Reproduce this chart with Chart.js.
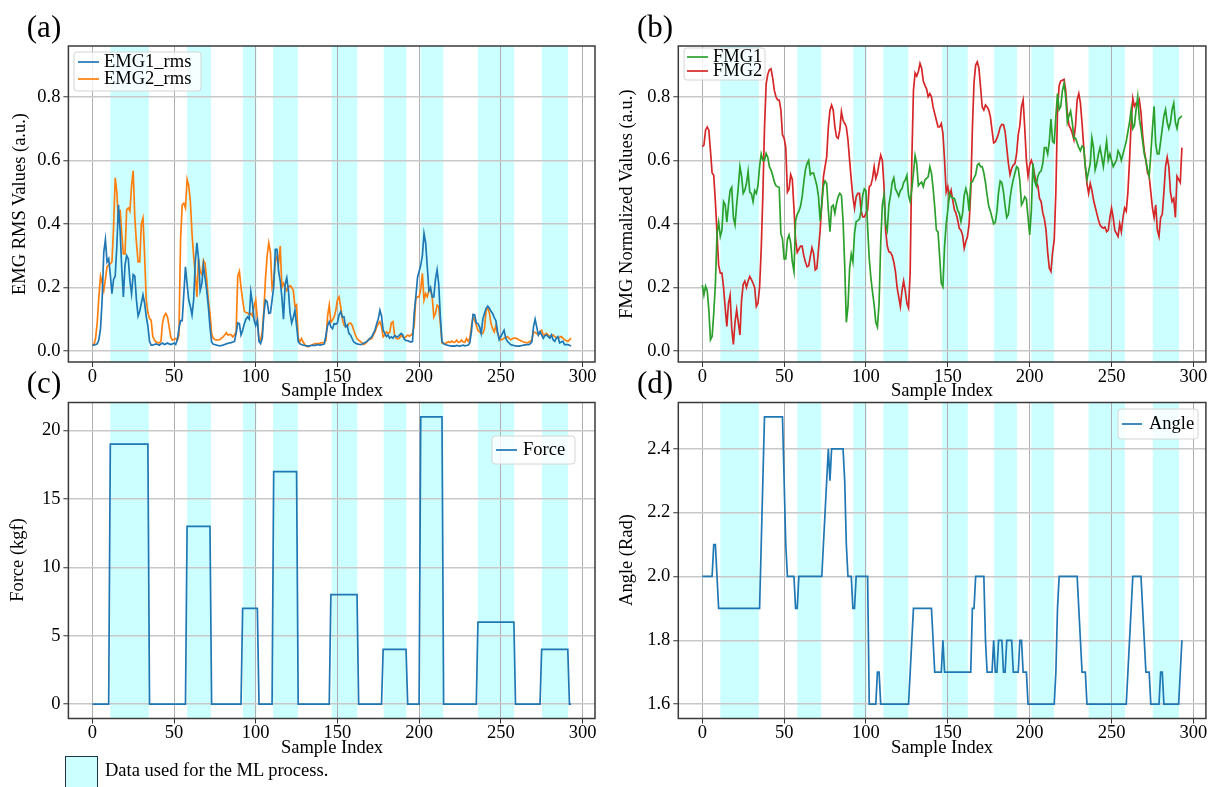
<!DOCTYPE html>
<html>
<head>
<meta charset="utf-8">
<script src="https://cdn.jsdelivr.net/npm/chart.js@4.4.1/dist/chart.umd.min.js"></script>
<style>
  html, body { margin: 0; padding: 0; background: #fff; }
  body { width: 1219px; height: 787px; position: relative; overflow: hidden;
         font-family: "Liberation Serif", "Times New Roman", serif; color: #000; }
  canvas { position: absolute; left: 0; top: 0; }
  .lbl { position: absolute; white-space: nowrap; line-height: 1; transform: translate(-50%, -50%); }
  .yt { transform: translate(-50%, -50%) rotate(-90deg); }
  .patch { position: absolute; left: 65px; top: 756px; width: 33px; height: 40px;
           background: #ccffff; border: 1.5px solid #1e3550; box-sizing: border-box; }
  .note { position: absolute; left: 105px; top: 770px; transform: translateY(-50%);
          font-size: 18.5px; line-height: 1; white-space: nowrap; }
</style>
</head>
<body>
<canvas id="chartA" width="1219" height="787"></canvas>
<canvas id="chartB" width="1219" height="787"></canvas>
<canvas id="chartC" width="1219" height="787"></canvas>
<canvas id="chartD" width="1219" height="787"></canvas>

<div class="lbl" style="left:44px;top:26px;font-size:31px">(a)</div>
<div class="lbl" style="left:655px;top:26px;font-size:31px">(b)</div>
<div class="lbl" style="left:44px;top:382px;font-size:31px">(c)</div>
<div class="lbl" style="left:655px;top:382px;font-size:31px">(d)</div>

<div class="lbl yt" style="left:19px;top:204px;font-size:18.5px">EMG RMS Values (a.u.)</div>
<div class="lbl yt" style="left:626px;top:204px;font-size:18.5px">FMG Normalized Values (a.u.)</div>
<div class="lbl yt" style="left:17px;top:560px;font-size:18.5px">Force (kgf)</div>
<div class="lbl yt" style="left:626px;top:560px;font-size:18.5px">Angle (Rad)</div>

<div class="lbl" style="left:332px;top:390px;font-size:18.5px">Sample Index</div>
<div class="lbl" style="left:942px;top:390px;font-size:18.5px">Sample Index</div>
<div class="lbl" style="left:332px;top:747px;font-size:18.5px">Sample Index</div>
<div class="lbl" style="left:942px;top:747px;font-size:18.5px">Sample Index</div>

<div class="patch"></div>
<div class="note">Data used for the ML process.</div>

<script>
// shaded sample ranges used for the ML process
var mlSpans = [[11, 34.6], [58, 72.6], [92.2, 100.4], [110.6, 125.8], [146.5, 162.2],
               [178.3, 192.2], [201, 214.8], [236, 258.2], [275.2, 291.2]];

var xTicks = [0, 50, 100, 150, 200, 250, 300];
var emgTicks = [0.0, 0.2, 0.4, 0.6, 0.8];
var fmgTicks = [0.0, 0.2, 0.4, 0.6, 0.8];
var forceTicks = [0, 5, 10, 15, 20];
var angleTicks = [1.6, 1.8, 2.0, 2.2, 2.4];

var emg1 = [
  0.018, 0.018, 0.020, 0.022, 0.035, 0.070, 0.160, 0.310, 0.350, 0.280,
  0.290, 0.240, 0.180, 0.225, 0.235, 0.330, 0.460, 0.380, 0.260, 0.170,
  0.270, 0.300, 0.290, 0.220, 0.180, 0.240, 0.235, 0.160, 0.110, 0.125,
  0.150, 0.176, 0.150, 0.107, 0.078, 0.030, 0.018, 0.018, 0.020, 0.022,
  0.020, 0.018, 0.022, 0.025, 0.020, 0.022, 0.025, 0.022, 0.020, 0.022,
  0.025, 0.020, 0.035, 0.070, 0.095, 0.095, 0.180, 0.265, 0.210, 0.160,
  0.140, 0.113, 0.160, 0.280, 0.340, 0.290, 0.190, 0.210, 0.270, 0.230,
  0.190, 0.140, 0.076, 0.028, 0.021, 0.020, 0.018, 0.017, 0.016, 0.017,
  0.018, 0.020, 0.022, 0.024, 0.025, 0.026, 0.028, 0.030, 0.055, 0.088,
  0.086, 0.050, 0.065, 0.085, 0.100, 0.107, 0.100, 0.186, 0.150, 0.097,
  0.080, 0.097, 0.030, 0.023, 0.040, 0.118, 0.160, 0.155, 0.118, 0.120,
  0.160, 0.200, 0.320, 0.320, 0.250, 0.220, 0.170, 0.100, 0.210, 0.230,
  0.190, 0.120, 0.088, 0.105, 0.128, 0.080, 0.030, 0.022, 0.020, 0.018,
  0.017, 0.016, 0.015, 0.016, 0.017, 0.018, 0.017, 0.018, 0.020, 0.018,
  0.019, 0.020, 0.022, 0.050, 0.080, 0.092, 0.075, 0.070, 0.086, 0.084,
  0.088, 0.113, 0.123, 0.107, 0.107, 0.076, 0.081, 0.055, 0.050, 0.039,
  0.028, 0.025, 0.022, 0.021, 0.020, 0.021, 0.024, 0.026, 0.030, 0.034,
  0.040, 0.044, 0.055, 0.065, 0.085, 0.100, 0.128, 0.110, 0.065, 0.055,
  0.045, 0.050, 0.040, 0.044, 0.040, 0.048, 0.045, 0.044, 0.050, 0.055,
  0.050, 0.036, 0.033, 0.032, 0.030, 0.028, 0.030, 0.120, 0.170, 0.230,
  0.250, 0.270, 0.300, 0.370, 0.340, 0.265, 0.190, 0.200, 0.170, 0.170,
  0.225, 0.255, 0.210, 0.107, 0.030, 0.022, 0.020, 0.018, 0.017, 0.016,
  0.015, 0.016, 0.015, 0.017, 0.016, 0.015, 0.017, 0.018, 0.016, 0.017,
  0.018, 0.025, 0.060, 0.115, 0.113, 0.088, 0.086, 0.076, 0.055, 0.100,
  0.118, 0.134, 0.141, 0.134, 0.125, 0.118, 0.105, 0.095, 0.060, 0.035,
  0.045, 0.055, 0.065, 0.040, 0.030, 0.025, 0.020, 0.018, 0.017, 0.016,
  0.015, 0.015, 0.016, 0.017, 0.018, 0.019, 0.020, 0.020, 0.022, 0.028,
  0.075, 0.100, 0.075, 0.050, 0.060, 0.050, 0.040, 0.048, 0.050, 0.045,
  0.040, 0.050, 0.035, 0.030, 0.040, 0.045, 0.025, 0.028, 0.030, 0.020,
  0.020, 0.020, 0.018, 0.015
];

var emg2 = [
  0.018, 0.020, 0.040, 0.090, 0.170, 0.235, 0.215, 0.190, 0.225, 0.265,
  0.270, 0.275, 0.280, 0.390, 0.545, 0.500, 0.400, 0.445, 0.370, 0.305,
  0.305, 0.444, 0.450, 0.440, 0.520, 0.567, 0.420, 0.340, 0.280, 0.280,
  0.400, 0.418, 0.300, 0.160, 0.120, 0.102, 0.097, 0.045, 0.034, 0.028,
  0.026, 0.025, 0.030, 0.090, 0.110, 0.118, 0.107, 0.076, 0.044, 0.034,
  0.036, 0.039, 0.034, 0.050, 0.350, 0.460, 0.465, 0.450, 0.540, 0.520,
  0.470, 0.370, 0.300, 0.240, 0.170, 0.290, 0.250, 0.240, 0.285, 0.276,
  0.225, 0.160, 0.118, 0.055, 0.040, 0.036, 0.034, 0.035, 0.035, 0.040,
  0.044, 0.050, 0.057, 0.050, 0.052, 0.050, 0.044, 0.050, 0.060, 0.235,
  0.250, 0.200, 0.160, 0.125, 0.120, 0.120, 0.115, 0.118, 0.110, 0.140,
  0.160, 0.100, 0.034, 0.034, 0.060, 0.130, 0.230, 0.300, 0.340, 0.310,
  0.200, 0.220, 0.280, 0.297, 0.276, 0.330, 0.200, 0.213, 0.200, 0.190,
  0.200, 0.205, 0.200, 0.190, 0.140, 0.145, 0.040, 0.028, 0.039, 0.028,
  0.020, 0.015, 0.013, 0.016, 0.018, 0.020, 0.022, 0.023, 0.023, 0.024,
  0.025, 0.026, 0.027, 0.034, 0.110, 0.144, 0.090, 0.097, 0.107, 0.128,
  0.160, 0.170, 0.139, 0.100, 0.081, 0.076, 0.076, 0.086, 0.088, 0.081,
  0.065, 0.050, 0.039, 0.034, 0.030, 0.025, 0.020, 0.023, 0.028, 0.036,
  0.037, 0.039, 0.050, 0.060, 0.075, 0.085, 0.092, 0.076, 0.044, 0.050,
  0.060, 0.055, 0.058, 0.088, 0.092, 0.050, 0.039, 0.038, 0.040, 0.050,
  0.044, 0.040, 0.045, 0.050, 0.046, 0.050, 0.055, 0.080, 0.165, 0.170,
  0.170, 0.195, 0.244, 0.160, 0.180, 0.170, 0.190, 0.190, 0.170, 0.107,
  0.118, 0.144, 0.139, 0.086, 0.025, 0.024, 0.023, 0.026, 0.028, 0.027,
  0.031, 0.027, 0.028, 0.034, 0.027, 0.028, 0.034, 0.028, 0.027, 0.039,
  0.030, 0.039, 0.076, 0.107, 0.097, 0.081, 0.065, 0.060, 0.055, 0.055,
  0.070, 0.128, 0.134, 0.120, 0.086, 0.070, 0.060, 0.080, 0.055, 0.045,
  0.035, 0.036, 0.040, 0.042, 0.045, 0.040, 0.035, 0.038, 0.040, 0.040,
  0.038, 0.035, 0.033, 0.030, 0.028, 0.027, 0.025, 0.027, 0.030, 0.035,
  0.060, 0.058, 0.055, 0.050, 0.060, 0.065, 0.050, 0.052, 0.055, 0.050,
  0.045, 0.048, 0.050, 0.045, 0.042, 0.040, 0.043, 0.045, 0.040, 0.035,
  0.033, 0.030, 0.035, 0.040
];

var fmg1 = [
  0.208, 0.176, 0.204, 0.190, 0.130, 0.035, 0.045, 0.118, 0.210, 0.370,
  0.405, 0.360, 0.380, 0.470, 0.460, 0.405, 0.460, 0.505, 0.515, 0.420,
  0.397, 0.460, 0.515, 0.580, 0.550, 0.496, 0.506, 0.527, 0.565, 0.500,
  0.495, 0.470, 0.505, 0.496, 0.520, 0.580, 0.620, 0.600, 0.600, 0.622,
  0.610, 0.580, 0.569, 0.553, 0.532, 0.520, 0.517, 0.515, 0.370, 0.352,
  0.290, 0.290, 0.350, 0.365, 0.340, 0.280, 0.250, 0.410, 0.430, 0.440,
  0.455, 0.485, 0.530, 0.570, 0.590, 0.600, 0.555, 0.560, 0.560, 0.540,
  0.520, 0.485, 0.410, 0.460, 0.520, 0.535, 0.527, 0.443, 0.375, 0.454,
  0.459, 0.433, 0.464, 0.485, 0.496, 0.490, 0.410, 0.270, 0.090, 0.140,
  0.260, 0.305, 0.280, 0.370, 0.407, 0.410, 0.415, 0.440, 0.490, 0.510,
  0.505, 0.390, 0.290, 0.230, 0.185, 0.145, 0.090, 0.075, 0.150, 0.340,
  0.460, 0.490, 0.400, 0.380, 0.460, 0.490, 0.530, 0.545, 0.510, 0.500,
  0.487, 0.505, 0.510, 0.530, 0.538, 0.553, 0.490, 0.470, 0.510, 0.560,
  0.615, 0.590, 0.520, 0.527, 0.532, 0.517, 0.538, 0.543, 0.548, 0.580,
  0.560, 0.512, 0.454, 0.380, 0.375, 0.297, 0.213, 0.202, 0.330, 0.400,
  0.443, 0.496, 0.485, 0.480, 0.480, 0.464, 0.443, 0.433, 0.407, 0.433,
  0.490, 0.511, 0.490, 0.440, 0.530, 0.532, 0.545, 0.555, 0.585, 0.590,
  0.580, 0.580, 0.560, 0.530, 0.490, 0.455, 0.440, 0.420, 0.400, 0.405,
  0.440, 0.500, 0.535, 0.530, 0.500, 0.455, 0.420, 0.430, 0.480, 0.515,
  0.540, 0.560, 0.580, 0.575, 0.535, 0.460, 0.470, 0.485, 0.478, 0.420,
  0.365, 0.440, 0.590, 0.535, 0.520, 0.550, 0.562, 0.567, 0.590, 0.640,
  0.640, 0.620, 0.660, 0.730, 0.660, 0.655, 0.740, 0.810, 0.760, 0.770,
  0.820, 0.842, 0.800, 0.720, 0.740, 0.755, 0.720, 0.670, 0.670, 0.655,
  0.640, 0.630, 0.645, 0.640, 0.580, 0.540, 0.565, 0.590, 0.670, 0.640,
  0.570, 0.590, 0.620, 0.640, 0.610, 0.580, 0.620, 0.660, 0.600, 0.620,
  0.600, 0.580, 0.590, 0.600, 0.630, 0.620, 0.600, 0.620, 0.640, 0.660,
  0.690, 0.720, 0.760, 0.700, 0.710, 0.760, 0.800, 0.730, 0.700, 0.660,
  0.620, 0.600, 0.570, 0.550, 0.620, 0.700, 0.770, 0.650, 0.620, 0.620,
  0.660, 0.700, 0.740, 0.760, 0.720, 0.700, 0.720, 0.760, 0.780, 0.720,
  0.700, 0.730, 0.735, 0.740
];

var fmg2 = [
  0.643, 0.648, 0.695, 0.705, 0.695, 0.630, 0.560, 0.553, 0.470, 0.370,
  0.270, 0.245, 0.245, 0.200, 0.135, 0.077, 0.150, 0.175, 0.070, 0.020,
  0.090, 0.130, 0.090, 0.050, 0.160, 0.210, 0.220, 0.200, 0.220, 0.234,
  0.225, 0.213, 0.200, 0.140, 0.150, 0.200, 0.320, 0.490, 0.700, 0.840,
  0.870, 0.885, 0.888, 0.860, 0.820, 0.800, 0.790, 0.790, 0.760, 0.680,
  0.670, 0.640, 0.500, 0.510, 0.555, 0.540, 0.450, 0.350, 0.310, 0.320,
  0.330, 0.330, 0.300, 0.280, 0.265, 0.268, 0.297, 0.325, 0.307, 0.255,
  0.260, 0.320, 0.380, 0.465, 0.548, 0.580, 0.611, 0.705, 0.758, 0.774,
  0.758, 0.705, 0.674, 0.669, 0.695, 0.753, 0.726, 0.716, 0.705, 0.664,
  0.600, 0.540, 0.485, 0.449, 0.485, 0.496, 0.496, 0.443, 0.422, 0.422,
  0.433, 0.443, 0.517, 0.522, 0.543, 0.580, 0.543, 0.559, 0.590, 0.616,
  0.600, 0.520, 0.380, 0.330, 0.312, 0.310, 0.300, 0.280, 0.250, 0.200,
  0.170, 0.140, 0.190, 0.220, 0.190, 0.150, 0.135, 0.250, 0.600, 0.820,
  0.875, 0.865, 0.880, 0.905, 0.890, 0.850, 0.836, 0.825, 0.800, 0.810,
  0.800, 0.768, 0.747, 0.726, 0.705, 0.705, 0.716, 0.685, 0.600, 0.500,
  0.517, 0.485, 0.506, 0.475, 0.445, 0.433, 0.412, 0.386, 0.380, 0.365,
  0.323, 0.344, 0.360, 0.400, 0.500, 0.700, 0.845, 0.900, 0.910, 0.890,
  0.830, 0.768, 0.758, 0.774, 0.768, 0.758, 0.737, 0.695, 0.655, 0.658,
  0.670, 0.685, 0.705, 0.713, 0.712, 0.690, 0.640, 0.590, 0.555, 0.575,
  0.585, 0.590, 0.620, 0.680, 0.710, 0.770, 0.790, 0.700, 0.600, 0.550,
  0.585, 0.600, 0.585, 0.555, 0.530, 0.520, 0.480, 0.470, 0.435, 0.415,
  0.380, 0.310, 0.260, 0.250, 0.310, 0.350, 0.500, 0.760, 0.835, 0.850,
  0.852, 0.855, 0.820, 0.750, 0.710, 0.700, 0.685, 0.665, 0.710, 0.790,
  0.810, 0.780, 0.716, 0.643, 0.580, 0.527, 0.496, 0.527, 0.506, 0.475,
  0.454, 0.433, 0.412, 0.396, 0.390, 0.386, 0.390, 0.375, 0.380, 0.420,
  0.450, 0.420, 0.380, 0.370, 0.360, 0.400, 0.375, 0.420, 0.450, 0.440,
  0.500, 0.600, 0.720, 0.795, 0.770, 0.780, 0.775, 0.790, 0.750, 0.680,
  0.630, 0.600, 0.560, 0.550, 0.500, 0.450, 0.420, 0.460, 0.380, 0.360,
  0.420, 0.430, 0.500, 0.580, 0.610, 0.580, 0.500, 0.470, 0.480, 0.420,
  0.550, 0.540, 0.530, 0.640
];

var force = [
  0, 0, 0, 0, 0, 0, 0, 0, 0, 0,
  0, 19, 19, 19, 19, 19, 19, 19, 19, 19,
  19, 19, 19, 19, 19, 19, 19, 19, 19, 19,
  19, 19, 19, 19, 19, 0, 0, 0, 0, 0,
  0, 0, 0, 0, 0, 0, 0, 0, 0, 0,
  0, 0, 0, 0, 0, 0, 0, 0, 13, 13,
  13, 13, 13, 13, 13, 13, 13, 13, 13, 13,
  13, 13, 13, 0, 0, 0, 0, 0, 0, 0,
  0, 0, 0, 0, 0, 0, 0, 0, 0, 0,
  0, 0, 7, 7, 7, 7, 7, 7, 7, 7,
  7, 7, 0, 0, 0, 0, 0, 0, 0, 0,
  0, 17, 17, 17, 17, 17, 17, 17, 17, 17,
  17, 17, 17, 17, 17, 17, 0, 0, 0, 0,
  0, 0, 0, 0, 0, 0, 0, 0, 0, 0,
  0, 0, 0, 0, 0, 0, 8, 8, 8, 8,
  8, 8, 8, 8, 8, 8, 8, 8, 8, 8,
  8, 8, 8, 0, 0, 0, 0, 0, 0, 0,
  0, 0, 0, 0, 0, 0, 0, 0, 4, 4,
  4, 4, 4, 4, 4, 4, 4, 4, 4, 4,
  4, 4, 4, 0, 0, 0, 0, 0, 0, 0,
  0, 21, 21, 21, 21, 21, 21, 21, 21, 21,
  21, 21, 21, 21, 21, 0, 0, 0, 0, 0,
  0, 0, 0, 0, 0, 0, 0, 0, 0, 0,
  0, 0, 0, 0, 0, 0, 6, 6, 6, 6,
  6, 6, 6, 6, 6, 6, 6, 6, 6, 6,
  6, 6, 6, 6, 6, 6, 6, 6, 6, 0,
  0, 0, 0, 0, 0, 0, 0, 0, 0, 0,
  0, 0, 0, 0, 0, 4, 4, 4, 4, 4,
  4, 4, 4, 4, 4, 4, 4, 4, 4, 4,
  4, 4, 0, 0
];

var angle = [
  2.0, 2.0, 2.0, 2.0, 2.0, 2.0, 2.0, 2.1, 2.1, 2.0,
  1.9, 1.9, 1.9, 1.9, 1.9, 1.9, 1.9, 1.9, 1.9, 1.9,
  1.9, 1.9, 1.9, 1.9, 1.9, 1.9, 1.9, 1.9, 1.9, 1.9,
  1.9, 1.9, 1.9, 1.9, 1.9, 1.9, 2.1, 2.3, 2.5, 2.5,
  2.5, 2.5, 2.5, 2.5, 2.5, 2.5, 2.5, 2.5, 2.5, 2.5,
  2.3, 2.1, 2.0, 2.0, 2.0, 2.0, 2.0, 1.9, 1.9, 2.0,
  2.0, 2.0, 2.0, 2.0, 2.0, 2.0, 2.0, 2.0, 2.0, 2.0,
  2.0, 2.0, 2.0, 2.0, 2.1, 2.2, 2.3, 2.4, 2.3, 2.4,
  2.4, 2.4, 2.4, 2.4, 2.4, 2.4, 2.4, 2.3, 2.1, 2.0,
  2.0, 2.0, 1.9, 1.9, 2.0, 2.0, 2.0, 2.0, 2.0, 2.0,
  2.0, 2.0, 1.6, 1.6, 1.6, 1.6, 1.6, 1.7, 1.7, 1.6,
  1.6, 1.6, 1.6, 1.6, 1.6, 1.6, 1.6, 1.6, 1.6, 1.6,
  1.6, 1.6, 1.6, 1.6, 1.6, 1.6, 1.6, 1.7, 1.8, 1.9,
  1.9, 1.9, 1.9, 1.9, 1.9, 1.9, 1.9, 1.9, 1.9, 1.9,
  1.9, 1.8, 1.7, 1.7, 1.7, 1.7, 1.7, 1.8, 1.7, 1.7,
  1.7, 1.7, 1.7, 1.7, 1.7, 1.7, 1.7, 1.7, 1.7, 1.7,
  1.7, 1.7, 1.7, 1.7, 1.7, 1.9, 1.9, 2.0, 2.0, 2.0,
  2.0, 2.0, 2.0, 1.8, 1.7, 1.7, 1.7, 1.7, 1.8, 1.7,
  1.7, 1.8, 1.8, 1.8, 1.7, 1.7, 1.8, 1.8, 1.8, 1.8,
  1.7, 1.7, 1.7, 1.7, 1.8, 1.8, 1.7, 1.7, 1.7, 1.6,
  1.6, 1.6, 1.6, 1.6, 1.6, 1.6, 1.6, 1.6, 1.6, 1.6,
  1.6, 1.6, 1.6, 1.6, 1.6, 1.6, 1.7, 1.9, 2.0, 2.0,
  2.0, 2.0, 2.0, 2.0, 2.0, 2.0, 2.0, 2.0, 2.0, 2.0,
  1.9, 1.8, 1.7, 1.7, 1.7, 1.6, 1.6, 1.6, 1.6, 1.6,
  1.6, 1.6, 1.6, 1.6, 1.6, 1.6, 1.6, 1.6, 1.6, 1.6,
  1.6, 1.6, 1.6, 1.6, 1.6, 1.6, 1.6, 1.6, 1.6, 1.6,
  1.7, 1.8, 1.9, 2.0, 2.0, 2.0, 2.0, 2.0, 2.0, 1.9,
  1.8, 1.7, 1.7, 1.7, 1.6, 1.6, 1.6, 1.6, 1.6, 1.6,
  1.7, 1.7, 1.6, 1.6, 1.6, 1.6, 1.6, 1.6, 1.6, 1.6,
  1.6, 1.6, 1.7, 1.8
];

var sampleIndex = emg1.map(function (v, i) { return i; });

var PAGE_W = 1219, PAGE_H = 787, Y_W = 60, X_H = 40;
var FONT = '"Liberation Serif", "Times New Roman", serif';
var tickFont = { family: FONT, size: 18.5 };

function axisX() {
  return {
    type: 'linear', min: -14.65, max: 307.65,
    afterBuildTicks: function (s) { s.ticks = xTicks.map(function (v) { return { value: v }; }); },
    afterFit: function (s) { s.height = X_H; },
    ticks: { font: tickFont, color: '#000', padding: -1, maxRotation: 0, autoSkip: false },
    grid: { color: '#b0b0b0', lineWidth: 1, tickLength: 5, tickColor: '#333', tickWidth: 1 },
    border: { display: false }
  };
}

function axisY(min, max, ticks, digits) {
  return {
    type: 'linear', min: min, max: max,
    afterBuildTicks: function (s) { s.ticks = ticks.map(function (v) { return { value: v }; }); },
    afterFit: function (s) { s.width = Y_W; },
    ticks: { font: tickFont, color: '#000', padding: 3,
             callback: function (v) { return Number(v).toFixed(digits); } },
    grid: { color: '#c8c8c8', lineWidth: 1.5, tickLength: 5, tickColor: '#333', tickWidth: 1 },
    border: { display: false }
  };
}

var spanPlugin = {
  id: 'mlSpans',
  beforeDraw: function (chart) {
    var ctx = chart.ctx, a = chart.chartArea, xs = chart.scales.x;
    ctx.save();
    ctx.fillStyle = 'rgba(0, 255, 255, 0.2)';
    mlSpans.forEach(function (s) {
      var x1 = xs.getPixelForValue(s[0]), x2 = xs.getPixelForValue(s[1]);
      ctx.fillRect(x1, a.top, x2 - x1, a.bottom - a.top);
    });
    ctx.restore();
  }
};

var framePlugin = {
  id: 'frame',
  afterDraw: function (chart) {
    var ctx = chart.ctx, a = chart.chartArea;
    ctx.save();
    ctx.strokeStyle = '#3a3a3a';
    ctx.lineWidth = 1.5;
    ctx.strokeRect(a.left, a.top, a.right - a.left, a.bottom - a.top);
    ctx.restore();
  }
};

function legendPlugin(box) {
  return {
    id: 'boxLegend',
    afterDraw: function (chart) {
      var ctx = chart.ctx;
      ctx.save();
      ctx.beginPath();
      ctx.roundRect(box.x, box.y, box.w, box.h, 3);
      ctx.fillStyle = 'rgba(255,255,255,0.8)';
      ctx.fill();
      ctx.strokeStyle = '#d4d4d4';
      ctx.lineWidth = 1;
      ctx.stroke();
      ctx.font = '18.5px ' + FONT;
      ctx.textBaseline = 'middle';
      chart.data.datasets.forEach(function (ds, k) {
        var y = box.rows[k];
        ctx.strokeStyle = ds.borderColor;
        ctx.lineWidth = 1.7;
        ctx.beginPath();
        ctx.moveTo(box.hx0, y);
        ctx.lineTo(box.hx1, y);
        ctx.stroke();
        ctx.fillStyle = '#000';
        ctx.fillText(ds.label, box.tx, y);
      });
      ctx.restore();
    }
  };
}

function makePanel(id, area, yAxis, series, box) {
  return new Chart(document.getElementById(id), {
    type: 'line',
    data: {
      datasets: series.map(function (s) {
        return {
          label: s.label,
          data: s.values.map(function (v, i) { return { x: sampleIndex[i], y: v }; }),
          borderColor: s.color, borderWidth: 1.7, pointRadius: 0, tension: 0, fill: false
        };
      })
    },
    options: {
      responsive: false, animation: false, events: [],
      layout: { autoPadding: false, padding: {
        left: area.left - Y_W, right: PAGE_W - area.right,
        top: area.top, bottom: PAGE_H - area.bottom - X_H } },
      plugins: { legend: { display: false }, tooltip: { enabled: false } },
      scales: { x: axisX(), y: yAxis }
    },
    plugins: [spanPlugin, framePlugin, legendPlugin(box)]
  });
}

var leftCol = { left: 68.4, right: 595 }, rightCol = { left: 678.3, right: 1205.9 };

makePanel('chartA', { left: leftCol.left, right: leftCol.right, top: 46, bottom: 362 },
  axisY(-0.035, 0.96, emgTicks, 1),
  [{ label: 'EMG1_rms', values: emg1, color: '#1f77b4' },
   { label: 'EMG2_rms', values: emg2, color: '#ff7f0e' }],
  { x: 74, y: 52, w: 127, h: 39, hx0: 78, hx1: 99, tx: 104, rows: [62, 79] });

makePanel('chartB', { left: rightCol.left, right: rightCol.right, top: 46, bottom: 362 },
  axisY(-0.035, 0.96, fmgTicks, 1),
  [{ label: 'FMG1', values: fmg1, color: '#2ca02c' },
   { label: 'FMG2', values: fmg2, color: '#d62728' }],
  { x: 684, y: 48, w: 81, h: 32, hx0: 687, hx1: 708, tx: 713, rows: [57, 71] });

makePanel('chartC', { left: leftCol.left, right: leftCol.right, top: 402.5, bottom: 718.5 },
  axisY(-1.05, 22.05, forceTicks, 0),
  [{ label: 'Force', values: force, color: '#1f77b4' }],
  { x: 492, y: 436, w: 83, h: 28, hx0: 496, hx1: 517, tx: 523, rows: [450] });

makePanel('chartD', { left: rightCol.left, right: rightCol.right, top: 402.5, bottom: 718.5 },
  axisY(1.555, 2.545, angleTicks, 1),
  [{ label: 'Angle', values: angle, color: '#1f77b4' }],
  { x: 1118, y: 409, w: 80, h: 30, hx0: 1122, hx1: 1142, tx: 1149, rows: [424] });
</script>
</body>
</html>
